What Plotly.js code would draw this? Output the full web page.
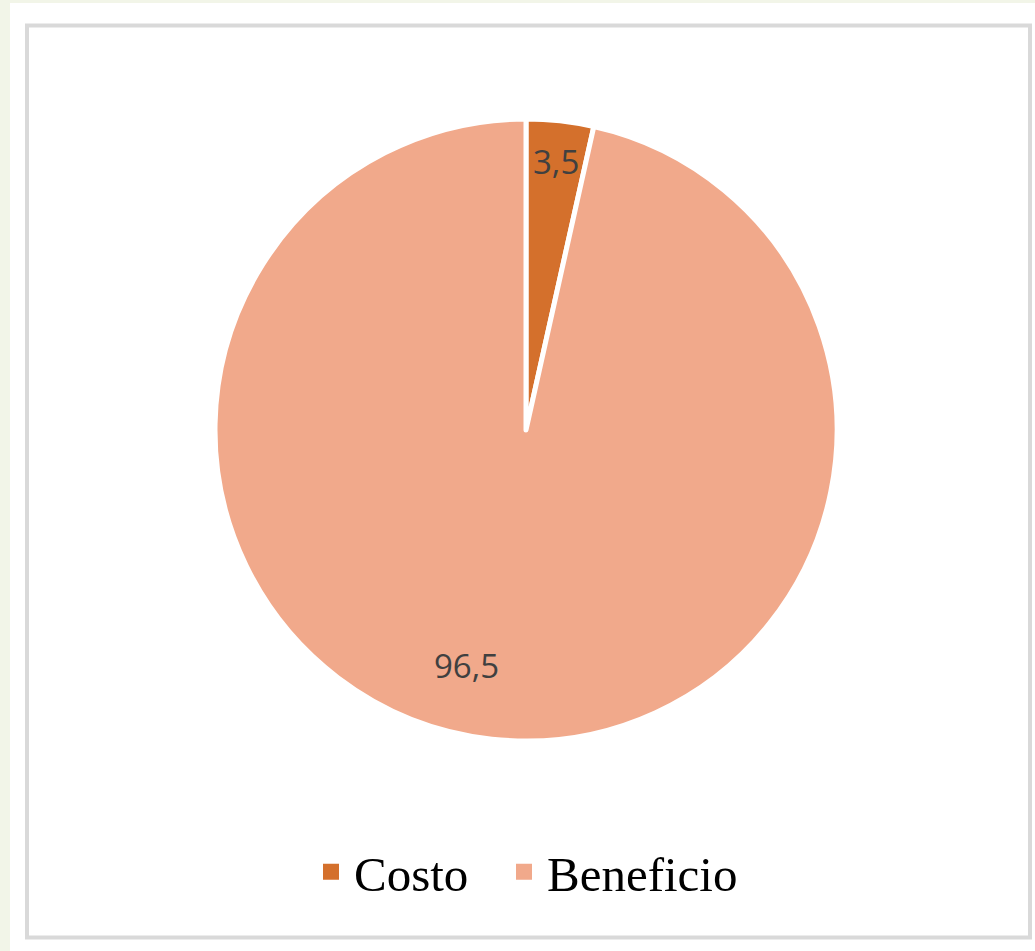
<!DOCTYPE html>
<html>
<head>
<meta charset="utf-8">
<script src="https://cdn.plot.ly/plotly-3.0.1.min.js"></script>
<style>
html,body{margin:0;padding:0;background:#ffffff;}
#chart{width:1035px;height:951px;}
</style>
</head>
<body>
<div id="chart"></div>
<script>
var categories = ["Costo", "Beneficio"];
var values = [3.5, 96.5];
var valueLabels = ["3,5", "96,5"];
var sliceColors = ["#d4702c", "#f1a98b"];

var W = 1035, H = 951;
function px(x){ return x / W; }
function py(y){ return 1 - y / H; }

// pie geometry (pixels)
var CX = 526, CY = 430, R = 311;
// label placement style
var labelRadiusSmall = 0.87, labelRadiusLarge = 0.78;
var labelAngleNudge = [0, 8];
// legend entry left edges (pixels)
var legendLeft = [308, 501];

var pie = {
  type: "pie",
  labels: categories,
  values: values,
  textinfo: "none",
  sort: false,
  direction: "clockwise",
  rotation: 0,
  showlegend: false,
  marker: {colors: sliceColors, line: {color: "#ffffff", width: 5}},
  domain: {x: [px(CX - R), px(CX + R)], y: [py(CY + R), py(CY - R)]},
  hoverinfo: "none"
};

// legend-only entries (no visible marks)
var legendTraces = categories.map(function(c, i){
  return {
    type: "scatter", mode: "markers", x: [null], y: [null], name: c,
    marker: {symbol: "square", size: 18, color: sliceColors[i]},
    showlegend: true, hoverinfo: "none",
    legend: i === 0 ? "legend" : "legend" + (i + 1)
  };
});

// data labels positioned from the slice angles
var total = values.reduce(function(a, b){ return a + b; }, 0);
var cum = 0;
var annotations = values.map(function(v, i){
  var frac = v / total;
  var mid = (cum + frac / 2) * 360 + labelAngleNudge[i];
  cum += frac;
  var rr = (frac < 0.1 ? labelRadiusSmall : labelRadiusLarge) * R;
  var a = mid * Math.PI / 180;
  var x = CX + rr * Math.sin(a), y = CY - rr * Math.cos(a);
  return {
    xref: "paper", yref: "paper", x: px(x), y: py(y),
    xanchor: "center", yanchor: "middle", showarrow: false,
    text: valueLabels[i],
    font: {family: "Open Sans, Liberation Sans, sans-serif", size: 33, color: "#404040"}
  };
});

function legendStyle(i){
  return {
    orientation: "h",
    x: px(legendLeft[i]), xanchor: "left",
    y: py(872), yanchor: "middle",
    font: {family: "Liberation Serif, Times New Roman, serif", size: 49, color: "#000000"},
    itemsizing: "trace",
    itemwidth: 36,
    bgcolor: "rgba(0,0,0,0)"
  };
}

var layout = {
  width: W, height: H,
  margin: {l: 0, r: 0, t: 0, b: 0},
  paper_bgcolor: "#f2f5e8",
  plot_bgcolor: "rgba(0,0,0,0)",
  xaxis: {visible: false},
  yaxis: {visible: false},
  showlegend: true,
  legend: legendStyle(0),
  legend2: legendStyle(1),
  annotations: annotations,
  shapes: [
    {type: "rect", xref: "paper", yref: "paper", x0: px(10), x1: 1, y0: 0, y1: py(3),
     fillcolor: "#ffffff", line: {width: 0}, layer: "below"},
    {type: "rect", xref: "paper", yref: "paper", x0: px(27), x1: px(1030), y0: py(937.5), y1: py(25.5),
     fillcolor: "rgba(0,0,0,0)", line: {color: "#d9d9d9", width: 4}, layer: "below"}
  ]
};

Plotly.newPlot("chart", [pie].concat(legendTraces), layout, {displayModeBar: false, staticPlot: true});
</script>
</body>
</html>
